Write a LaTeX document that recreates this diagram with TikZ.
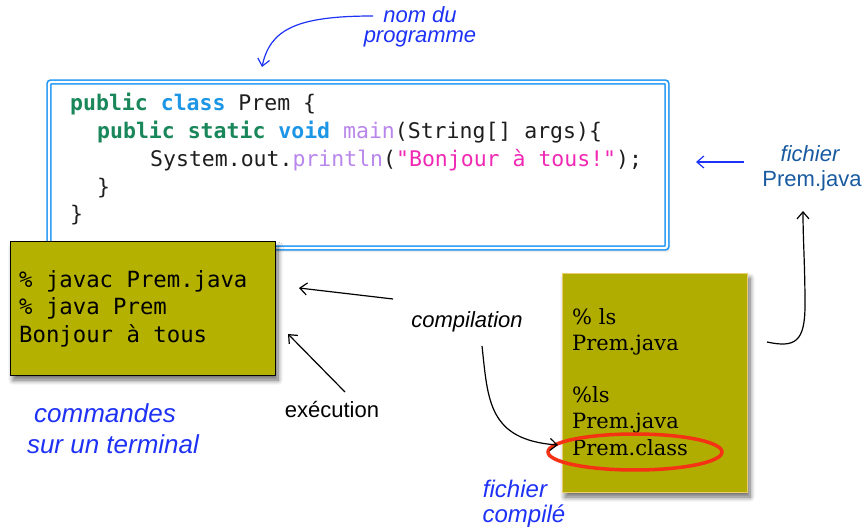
\documentclass[tikz,border=0pt]{standalone}
\usepackage{fontspec}
\setmainfont{Liberation Sans}
\newfontfamily\codefont{DejaVu Sans Mono}
\newfontfamily\lsfont{DejaVu Serif}
\usetikzlibrary{arrows.meta,shadows.blur,shapes.geometric}
\definecolor{codeblue}{RGB}{30,150,245}
\definecolor{kwgreen}{RGB}{25,135,90}
\definecolor{kwblue}{RGB}{30,150,230}
\definecolor{fnpurple}{RGB}{185,135,235}
\definecolor{strpink}{RGB}{240,40,180}
\definecolor{txtgray}{RGB}{30,30,30}
\definecolor{olive}{RGB}{180,177,0}
\definecolor{olivetwo}{RGB}{176,172,0}
\definecolor{labblue}{RGB}{30,50,245}
\definecolor{steel}{RGB}{25,90,160}
\definecolor{hlred}{RGB}{245,50,20}
\tikzset{
  codeline/.style={anchor=base west,inner sep=0pt,font=\codefont\fontsize{21.5}{26}\selectfont,text=txtgray},
  termline/.style={anchor=base west,inner sep=0pt,font=\codefont\fontsize{22.3}{27}\selectfont,text=black},
  lsline/.style={anchor=base west,inner sep=0pt,font=\lsfont\fontsize{21}{26}\selectfont,text=black},
  bluelab/.style={anchor=base,inner sep=0pt,font=\fontsize{22}{26}\selectfont\itshape,text=labblue},
  steellab/.style={anchor=base,inner sep=0pt,font=\fontsize{22}{26}\selectfont,text=steel},
  blacklab/.style={anchor=base,inner sep=0pt,font=\fontsize{22}{26}\selectfont,text=black},
  conn/.style={line width=1.2pt,-{Straight Barb[length=7pt,width=12pt,line width=1.2pt]}},
  boxshadow/.style={blur shadow={shadow xshift=3pt,shadow yshift=-5pt,shadow blur steps=8,shadow blur radius=5pt,shadow opacity=60}}
}
\begin{document}
\begin{tikzpicture}[x=1pt,y=-1pt]
\useasboundingbox (0,0) rectangle (865,529);
% code box
\node[draw=codeblue,line width=1.6pt,double=white,double distance=2.2pt,rounded corners=2pt,
  minimum width=618pt,minimum height=166pt,inner sep=0pt,fill=white,
  blur shadow={shadow xshift=2pt,shadow yshift=-3pt,shadow blur steps=5,shadow opacity=15}] (code) at (358,165) {};
\node[codeline] (c1) at (70,111) {\textcolor{kwgreen}{\bfseries public} \textcolor{kwblue}{\bfseries class} Prem \{};
\node[codeline] (c2) at (97,139) {\textcolor{kwgreen}{\bfseries public static} \textcolor{kwblue}{\bfseries void} \textcolor{fnpurple}{main}(String[] args)\{};
\node[codeline] (c3) at (150,167) {System.out.\textcolor{fnpurple}{println}(\textcolor{strpink}{"Bonjour à tous!"});};
\node[codeline] (c4) at (97,195) {\}};
\node[codeline] (c5) at (70,222) {\}};
% terminal box
\node[draw=black,line width=1pt,fill=olive,minimum width=265pt,minimum height=133pt,inner sep=0pt,boxshadow] (term) at (142.5,308.5) {};
\node[termline] (t1) at (19,288) {\% javac Prem.java};
\node[termline] (t2) at (19,315) {\% java Prem};
\node[termline] (t3) at (19,342) {Bonjour à tous};
% ls box
\node[draw={rgb,255:red,235;green,205;blue,110},line width=0.8pt,fill=olivetwo,minimum width=185pt,minimum height=219pt,inner sep=0pt,boxshadow] (ls) at (654.5,382.5) {};
\node[lsline] (l1) at (572,325) {\% ls};
\node[lsline] (l2) at (572,351) {Prem.java};
\node[lsline] (l3) at (572,402) {\%ls};
\node[lsline] (l4) at (572,428) {Prem.java};
\node[lsline] (l5) at (572,455) {Prem.class};
\node[draw=hlred,line width=3.5pt,ellipse,minimum width=174pt,minimum height=36pt,inner sep=0pt] (hl) at (635,452) {};
% labels
\node[bluelab] (nom1) at (420,23) {nom du};
\node[bluelab] (nom2) at (420,43) {programme};
\node[steellab,font=\fontsize{22}{26}\selectfont\itshape] (fj1) at (810,162) {fichier};
\node[steellab] (fj2) at (812,187) {Prem.java};
\node[blacklab,font=\fontsize{22}{26}\selectfont\itshape] (comp) at (467,328) {compilation};
\node[blacklab] (exec) at (332,417) {exécution};
\node[bluelab,font=\fontsize{26}{30}\selectfont\itshape] (cmd1) at (105,422) {commandes};
\node[bluelab,font=\fontsize{26}{30}\selectfont\itshape] (cmd2) at (113,453) {sur un terminal};
\node[bluelab,font=\fontsize{24}{28}\selectfont\itshape] (fc1) at (515,497) {fichier};
\node[bluelab,font=\fontsize{24}{28}\selectfont\itshape] (fc2) at (524,522) {compilé};
% coordinates for free ends
\coordinate (nomS) at (373,16);
\coordinate (nomT) at (262,67);
\coordinate (fjS) at (744,162);
\coordinate (fjT) at (696,162);
\coordinate (lsS) at (767,342);
\coordinate (lsT) at (803,211);
\coordinate (compS) at (393,299);
\coordinate (compT) at (299,288);
\coordinate (execS) at (345,392);
\coordinate (execT) at (288,334);
\coordinate (cdS) at (482,346);
\coordinate (cdT) at (558,445);
% connectors
\draw[conn,labblue] (nomS) .. controls (295,16) and (270,30) .. (nomT);
\draw[conn,labblue] (fjS) -- (fjT);
\draw[conn,black] (lsS) .. controls (795,348) and (805,342) .. (805,305) .. controls (805,265) and (803,240) .. (lsT);
\draw[conn] (compS) -- (compT);
\draw[conn] (execS) -- (execT);
\draw[conn] (cdS) .. controls (488,400) and (488,440) .. (cdT);
\end{tikzpicture}
\end{document}
